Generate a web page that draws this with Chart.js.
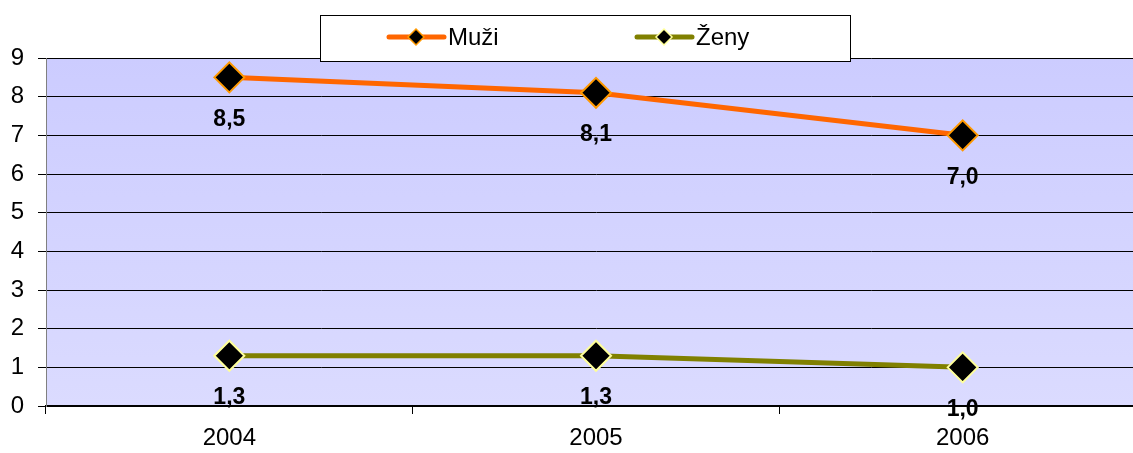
<!DOCTYPE html>
<html>
<head>
<meta charset="utf-8">
<script src="https://cdn.jsdelivr.net/npm/chart.js@4/dist/chart.umd.min.js"></script>
<style>
  html, body { margin: 0; padding: 0; background: #fff; overflow: hidden; }
  #wrap { position: relative; width: 1170px; height: 453px; }
</style>
</head>
<body>
<div id="wrap"><canvas id="chart"></canvas></div>
<script>
// data
const years = ['2004', '2005', '2006'];
const muzi = [8.5, 8.1, 7.0];
const zeny = [1.3, 1.3, 1.0];
const yTicks = [0, 1, 2, 3, 4, 5, 6, 7, 8, 9];

const FONT = 'Arial, "Liberation Sans", sans-serif';

// plot background gradient
const bgPlugin = {
  id: 'bg',
  beforeDraw(chart) {
    const { ctx, chartArea: a } = chart;
    const g = ctx.createLinearGradient(0, a.top, 0, a.bottom);
    g.addColorStop(0, '#CCCCFF');
    g.addColorStop(1, '#DBDBFF');
    ctx.save();
    ctx.fillStyle = g;
    ctx.fillRect(a.left, a.top, a.right - a.left, a.bottom - a.top);
    ctx.restore();
  }
};

// value labels under each point
const labelsPlugin = {
  id: 'vals',
  afterDatasetsDraw(chart) {
    const ctx = chart.ctx;
    ctx.save();
    ctx.font = 'bold 23px ' + FONT;
    ctx.fillStyle = '#000';
    ctx.textAlign = 'center';
    ctx.textBaseline = 'middle';
    chart.data.datasets.forEach((ds, i) => {
      chart.getDatasetMeta(i).data.forEach((pt, j) => {
        ctx.fillText(ds.data[j].toFixed(1).replace('.', ','), pt.x, pt.y + 42);
      });
    });
    ctx.restore();
  }
};

// boxed legend at the top
const legendPlugin = {
  id: 'boxLegend',
  afterDraw(chart) {
    const ctx = chart.ctx;
    ctx.save();
    ctx.fillStyle = '#fff';
    ctx.fillRect(320, 15, 530, 46);
    ctx.strokeStyle = '#000';
    ctx.lineWidth = 1;
    ctx.strokeRect(320.5, 15.5, 530, 46);
    const items = [{ x: 389 }, { x: 637 }];
    chart.data.datasets.forEach((ds, i) => {
      const x = items[i].x, y = 37;
      ctx.strokeStyle = ds.borderColor;
      ctx.lineWidth = 5;
      ctx.lineCap = 'round';
      ctx.beginPath();
      ctx.moveTo(x, y);
      ctx.lineTo(x + 55, y);
      ctx.stroke();
      const cx = x + 27, r = 8;
      ctx.beginPath();
      ctx.moveTo(cx, y - r);
      ctx.lineTo(cx + r, y);
      ctx.lineTo(cx, y + r);
      ctx.lineTo(cx - r, y);
      ctx.closePath();
      ctx.fillStyle = '#000';
      ctx.fill();
      ctx.lineWidth = 1.5;
      ctx.strokeStyle = ds.pointBorderColor;
      ctx.stroke();
      ctx.fillStyle = '#000';
      ctx.font = '24px ' + FONT;
      ctx.textAlign = 'left';
      ctx.textBaseline = 'middle';
      ctx.fillText(ds.label, x + 59, y + 1);
    });
    ctx.restore();
  }
};

new Chart(document.getElementById('chart'), {
  type: 'line',
  data: {
    labels: years,
    datasets: [
      {
        label: 'Muži',
        data: muzi,
        borderColor: '#FF6600',
        borderWidth: 5,
        pointStyle: 'rectRot',
        pointRadius: 15,
        pointBackgroundColor: '#000',
        pointBorderColor: '#FF9900',
        pointBorderWidth: 2,
        tension: 0
      },
      {
        label: 'Ženy',
        data: zeny,
        borderColor: '#808000',
        borderWidth: 5,
        pointStyle: 'rectRot',
        pointRadius: 15,
        pointBackgroundColor: '#000',
        pointBorderColor: '#FFFF99',
        pointBorderWidth: 2,
        tension: 0
      }
    ]
  },
  options: {
    responsive: true,
    maintainAspectRatio: false,
    animation: false,
    events: [],
    layout: { padding: { top: 58, right: 24, left: 0, bottom: 0 } },
    plugins: {
      legend: { display: false },
      tooltip: { enabled: false }
    },
    scales: {
      x: {
        offset: true,
        grid: { offset: true, drawOnChartArea: false, drawTicks: true, tickLength: 8, color: '#000' },
        border: { color: '#000', width: 2 },
        ticks: { color: '#000', font: { family: FONT, size: 24 }, padding: 10 },
        afterFit(s) { s.height = 47; }
      },
      y: {
        min: 0,
        max: 9,
        afterBuildTicks(s) { s.ticks = yTicks.map(v => ({ value: v })); },
        grid: { color: '#000', lineWidth: 1, tickLength: 8, drawTicks: true },
        border: { color: '#808080', width: 1 },
        ticks: { color: '#000', font: { family: FONT, size: 24 }, padding: 14 },
        afterFit(s) { s.width = 46; }
      }
    }
  },
  plugins: [bgPlugin, labelsPlugin, legendPlugin]
});
</script>
</body>
</html>
